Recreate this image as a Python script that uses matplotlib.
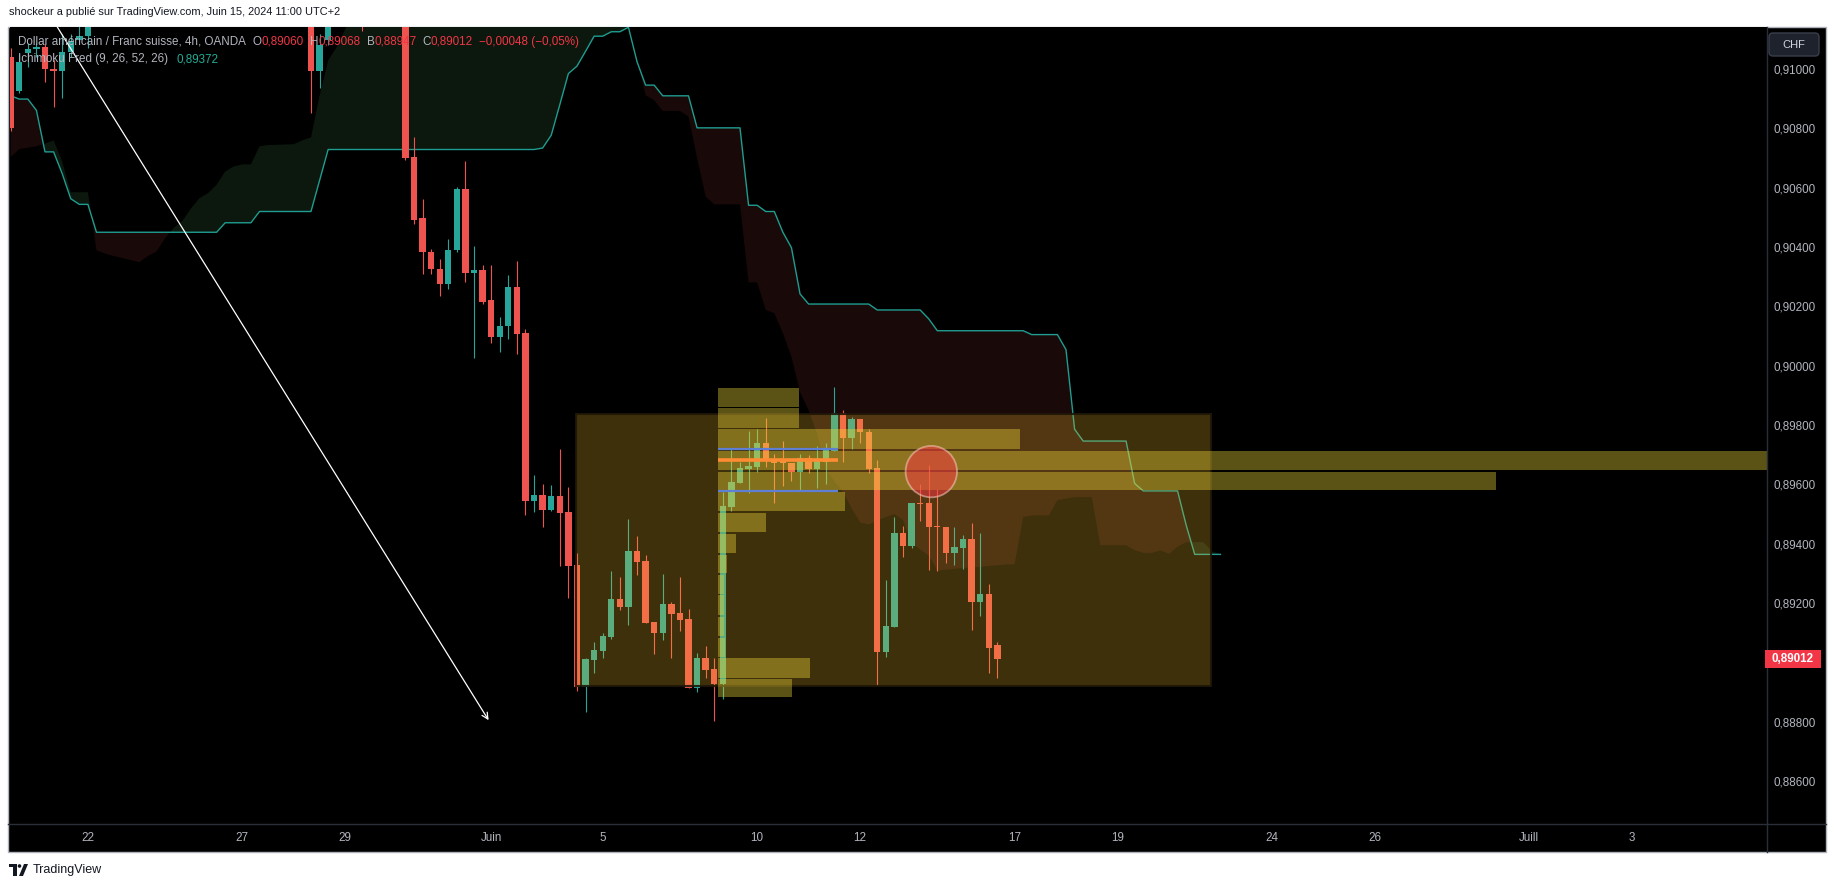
import numpy as np
import matplotlib
matplotlib.use("Agg")
import matplotlib.pyplot as plt
from matplotlib.patches import Rectangle, Ellipse, FancyBboxPatch, Polygon, Circle
from matplotlib.lines import Line2D
from matplotlib.transforms import Affine2D, blended_transform_factory

W, H = 1835, 888

# 4h candles, index 0 = first visible bar (21 mai), 6 bars a day
OPEN = [0.9104, 0.90927, 0.91055, 0.91067, 0.91073, 0.91000, 0.90994, 0.91059, 0.91098, 0.91110,
        0.9116, 0.9128, 0.9137, 0.9146, 0.9142, 0.9140, 0.9149, 0.9151, 0.9144, 0.9139,
        0.9145, 0.9141, 0.9136, 0.9140, 0.9135, 0.9131, 0.9137, 0.9134, 0.9129, 0.9133,
        0.9127, 0.9130, 0.9126, 0.9128, 0.9122, 0.9124, 0.90994, 0.91098, 0.9121, 0.9126,
        0.9131, 0.9125, 0.9121, 0.9127, 0.9130, 0.9124, 0.9126, 0.90704, 0.90497, 0.90385,
        0.90327, 0.90276, 0.90389, 0.90597, 0.90312, 0.90323, 0.90220, 0.90096, 0.90133, 0.90267,
        0.90109, 0.89544, 0.89564, 0.89514, 0.89561, 0.89507, 0.89328, 0.88916, 0.89007, 0.89037,
        0.89084, 0.89213, 0.89186, 0.89375, 0.89341, 0.89135, 0.89098, 0.89196, 0.89166, 0.89145,
        0.88912, 0.89014, 0.88976, 0.88926, 0.89524, 0.89606, 0.89653, 0.89659, 0.89738, 0.89679,
        0.89679, 0.89672, 0.89643, 0.89688, 0.89652, 0.89676, 0.89713, 0.89839, 0.89758, 0.89822,
        0.89778, 0.89654, 0.89035, 0.89119, 0.89436, 0.89393, 0.89537, 0.89537, 0.89459, 0.89456,
        0.89368, 0.89385, 0.89416, 0.89203, 0.89230, 0.89060]
HIGH = [0.9107, 0.9105, 0.91087, 0.91087, 0.91085, 0.91030, 0.9112, 0.9112, 0.9116, 0.9120,
        0.9131, 0.9140, 0.9150, 0.9155, 0.9149, 0.9152, 0.9158, 0.9156, 0.9150, 0.9147,
        0.9152, 0.9148, 0.9143, 0.9146, 0.9141, 0.9139, 0.9142, 0.9140, 0.9136, 0.9138,
        0.9134, 0.9137, 0.9132, 0.9133, 0.9129, 0.9127, 0.9112, 0.9124, 0.9130, 0.9134,
        0.9138, 0.9132, 0.9130, 0.9135, 0.9136, 0.9131, 0.9129, 0.90771, 0.90563, 0.90394,
        0.90360, 0.90426, 0.90602, 0.90689, 0.90402, 0.90338, 0.90340, 0.90163, 0.90307, 0.90352,
        0.90124, 0.89632, 0.89602, 0.89598, 0.89720, 0.89591, 0.89367, 0.89015, 0.89068, 0.89098,
        0.89307, 0.89287, 0.89483, 0.89426, 0.89361, 0.89135, 0.89297, 0.89203, 0.89287, 0.89179,
        0.89030, 0.89054, 0.89014, 0.89574, 0.89724, 0.89676, 0.89780, 0.89786, 0.89825, 0.89704,
        0.89747, 0.89672, 0.89702, 0.89699, 0.89730, 0.89740, 0.89927, 0.89851, 0.89826, 0.89822,
        0.89786, 0.89682, 0.89279, 0.89490, 0.89459, 0.89537, 0.89601, 0.89666, 0.89584, 0.89456,
        0.89456, 0.89429, 0.89470, 0.89436, 0.89264, 0.89068]
LOW = [0.9079, 0.9092, 0.91008, 0.91042, 0.90957, 0.90871, 0.90901, 0.9104, 0.9109, 0.9107,
       0.9116, 0.9124, 0.9133, 0.9138, 0.9135, 0.9136, 0.9142, 0.9140, 0.9136, 0.9133,
       0.9139, 0.9132, 0.9128, 0.9133, 0.9127, 0.9126, 0.9130, 0.9127, 0.9123, 0.9125,
       0.9121, 0.9124, 0.9120, 0.9119, 0.9117, 0.90853, 0.90935, 0.9108, 0.9117, 0.9120,
       0.9122, 0.91128, 0.9117, 0.9121, 0.9122, 0.9118, 0.90695, 0.90479, 0.90310, 0.90310,
       0.90236, 0.90259, 0.90382, 0.90282, 0.90025, 0.90208, 0.90075, 0.90047, 0.90090, 0.90040,
       0.89497, 0.89508, 0.89456, 0.89510, 0.89324, 0.89217, 0.88902, 0.88834, 0.88963, 0.89014,
       0.89079, 0.89176, 0.89125, 0.89294, 0.89132, 0.89027, 0.89074, 0.89014, 0.89105, 0.88912,
       0.88899, 0.88946, 0.88801, 0.88875, 0.89510, 0.89606, 0.89572, 0.89643, 0.89657, 0.89538,
       0.89595, 0.89611, 0.89581, 0.89640, 0.89589, 0.89602, 0.89713, 0.89676, 0.89719, 0.89741,
       0.89640, 0.88925, 0.89018, 0.89119, 0.89356, 0.89384, 0.89476, 0.89312, 0.89307, 0.89334,
       0.89328, 0.89314, 0.89108, 0.89155, 0.88963, 0.88947]
CLOSE = [0.9080, 0.91025, 0.91067, 0.91076, 0.90999, 0.90994, 0.91059, 0.91096, 0.91112, 0.91160,
         0.9128, 0.9137, 0.9146, 0.9142, 0.9140, 0.9149, 0.9151, 0.9144, 0.9139, 0.9145,
         0.9141, 0.9136, 0.9140, 0.9135, 0.9131, 0.9137, 0.9134, 0.9129, 0.9133, 0.9127,
         0.9130, 0.9126, 0.9128, 0.9122, 0.9124, 0.90994, 0.91081, 0.9121, 0.9126, 0.9131,
         0.9125, 0.9121, 0.9127, 0.9130, 0.9124, 0.9126, 0.90702, 0.90493, 0.90383, 0.90325,
         0.90276, 0.90391, 0.90597, 0.90312, 0.90323, 0.90216, 0.90096, 0.90135, 0.90267, 0.90107,
         0.89544, 0.89564, 0.89514, 0.89561, 0.89504, 0.89324, 0.88916, 0.89010, 0.89041, 0.89088,
         0.89213, 0.89186, 0.89375, 0.89338, 0.89132, 0.89098, 0.89196, 0.89162, 0.89142, 0.88912,
         0.89014, 0.88973, 0.88926, 0.89527, 0.89608, 0.89654, 0.89662, 0.89738, 0.89679, 0.89672,
         0.89672, 0.89643, 0.89688, 0.89652, 0.89679, 0.89716, 0.89839, 0.89758, 0.89822, 0.89775,
         0.89653, 0.89035, 0.89122, 0.89436, 0.89393, 0.89537, 0.89534, 0.89456, 0.89456, 0.89368,
         0.89389, 0.89416, 0.89203, 0.89230, 0.89047, 0.89012]

# Ichimoku: Senkou B (teal line) and Senkou A (cloud edge), one value per bar incl. 26 bars ahead
SPAN_B = [0.90910, 0.90899, 0.90899, 0.90861, 0.90721, 0.90721, 0.90648, 0.90563, 0.90544, 0.90544,
          0.90450, 0.90450, 0.90450, 0.90450, 0.90450, 0.90450, 0.90450, 0.90450, 0.90450, 0.90450,
          0.90450, 0.90450, 0.90450, 0.90450, 0.90450, 0.90482, 0.90482, 0.90482, 0.90482, 0.90520,
          0.90520, 0.90520, 0.90520, 0.90520, 0.90520, 0.90520, 0.90625, 0.90729, 0.90729, 0.90729,
          0.90729, 0.90729, 0.90729, 0.90729, 0.90729, 0.90729, 0.90729, 0.90729, 0.90729, 0.90729,
          0.90729, 0.90729, 0.90729, 0.90729, 0.90729, 0.90729, 0.90729, 0.90729, 0.90729, 0.90729,
          0.90729, 0.90729, 0.90734, 0.90777, 0.90880, 0.90985, 0.91010, 0.91060, 0.91111, 0.91111,
          0.91126, 0.91126, 0.91141, 0.91025, 0.90946, 0.90946, 0.90910, 0.90910, 0.90910, 0.90910,
          0.90802, 0.90802, 0.90802, 0.90802, 0.90802, 0.90802, 0.90541, 0.90541, 0.90520, 0.90520,
          0.90450, 0.90398, 0.90242, 0.90208, 0.90208, 0.90208, 0.90208, 0.90208, 0.90208, 0.90208,
          0.90208, 0.90188, 0.90188, 0.90188, 0.90188, 0.90188, 0.90188, 0.90158, 0.90118, 0.90118,
          0.90118, 0.90118, 0.90118, 0.90118, 0.90118, 0.90118, 0.90118, 0.90118, 0.90118, 0.90105,
          0.90105, 0.90105, 0.90105, 0.90054, 0.89786, 0.89746, 0.89746, 0.89746, 0.89746, 0.89746,
          0.89746, 0.89603, 0.89578, 0.89578, 0.89578, 0.89578, 0.89578, 0.89463, 0.89364, 0.89364,
          0.89364, 0.89364]
SPAN_A = [0.90704, 0.90730, 0.90735, 0.90740, 0.90749, 0.90760, 0.90690, 0.90585, 0.90585, 0.90585,
          0.90389, 0.90378, 0.90370, 0.90363, 0.90356, 0.90349, 0.90370, 0.90385, 0.90430, 0.90465,
          0.90488, 0.90530, 0.90565, 0.90582, 0.90610, 0.90655, 0.90672, 0.90679, 0.90679, 0.90740,
          0.90744, 0.90745, 0.90746, 0.90747, 0.90760, 0.90770, 0.90910, 0.91030, 0.91075, 0.91135,
          0.9119, 0.9122, 0.9125, 0.9128, 0.9130, 0.9131, 0.9132, 0.9133, 0.9133, 0.9134,
          0.9134, 0.9135, 0.9135, 0.9134, 0.9133, 0.9132, 0.9131, 0.9130, 0.9129, 0.9128,
          0.9127, 0.9126, 0.9125, 0.9124, 0.9123, 0.9122, 0.9121, 0.9120, 0.9119, 0.9118,
          0.9117, 0.9116, 0.91141, 0.91030, 0.90912, 0.90895, 0.90859, 0.90859, 0.90859, 0.90840,
          0.90700, 0.90570, 0.90544, 0.90544, 0.90544, 0.90544, 0.90281, 0.90281, 0.90188, 0.90177,
          0.90110, 0.90030, 0.89910, 0.89850, 0.89770, 0.89650, 0.89610, 0.89575, 0.89520, 0.89472,
          0.89465, 0.89478, 0.89490, 0.89500, 0.89480, 0.89403, 0.89380, 0.89360, 0.89310, 0.89312,
          0.89315, 0.89318, 0.89320, 0.89322, 0.89325, 0.89327, 0.89330, 0.89330, 0.89490, 0.89495,
          0.89495, 0.89495, 0.89547, 0.89552, 0.89557, 0.89557, 0.89557, 0.89395, 0.89395, 0.89395,
          0.89395, 0.89378, 0.89369, 0.89369, 0.89377, 0.89366, 0.89390, 0.89405, 0.89405, 0.89405,
          0.89375, 0.89364]

# time axis (bar index of each day label)
DAY_POS = [9, 27, 39, 56, 69, 87, 99, 117, 129, 147, 159, 177, 189]
DAY_LABELS = ["22", "27", "29", "Juin", "5", "10", "12", "17", "19", "24", "26", "Juill", "3"]
PRICE_TICKS = [0.886, 0.888, 0.892, 0.894, 0.896, 0.898, 0.900, 0.902, 0.904, 0.906, 0.908, 0.910]

# drawings
BOX_X = [65.9, 139.9]
BOX_Y = [0.88919, 0.89837]
VP_START = 82.4
VP_EDGES = [0.88879, 0.88946, 0.89017, 0.89085, 0.89156, 0.89228, 0.89298, 0.89366,
            0.89436, 0.89507, 0.89578, 0.89645, 0.89716, 0.89788, 0.89860, 0.89927]
VP_END = [91.1, 93.2, 83.2, 83.1, 83.1, 83.1, 83.5, 84.5, 88.0, 97.2, 173.1, 206.0, 117.6, 91.9, 91.9]
POC = 0.89681
VA_HIGH, VA_LOW = 0.89719, 0.89578
VP_LINE_END = 96.4
CIRCLE_C = (107.3, 0.89643)
ARROW_FROM = (5.43, 0.91142)
ARROW_TO = (55.7, 0.88805)
LAST_PRICE = 0.89012

UP, DOWN = "#26a69a", "#ef5350"
GREY = "#b2b5be"
RED_T = "#f23645"

plt.rcParams["font.family"] = ["Liberation Sans", "DejaVu Sans"]
fig = plt.figure(figsize=(W / 100, H / 100), dpi=100, facecolor="white")
pix = Affine2D().scale(1 / W, -1 / H).translate(0, 1) + fig.transFigure

fig.add_artist(Rectangle((8, 27), 1818, 825, transform=pix, fc="black", ec="#b0b3bb", lw=1, zorder=-5))

ax = fig.add_axes([10 / W, 1 - 824 / H, 1757 / W, 797 / H])
ax.set_facecolor("black")
XMIN, XMAX = -0.08, 204.7
YMIN, YMAX = 0.88455, 0.91142
ax.set_xlim(XMIN, XMAX)
ax.set_ylim(YMIN, YMAX)
px_bar = 1757 / (XMAX - XMIN)
px_price = 797 / (YMAX - YMIN)

# ichimoku cloud
xs = np.arange(len(SPAN_A))
a = np.array(SPAN_A)
b = np.array(SPAN_B)
ax.fill_between(xs, a, b, where=a >= b, interpolate=True, color="#0c170e", lw=0, zorder=1)
ax.fill_between(xs, a, b, where=a < b, interpolate=True, color="#1a0909", lw=0, zorder=1)
ax.plot(xs, b, color="#1f9d90", lw=1.0, zorder=2)

# candles
o, h, l, c = (np.array(v) for v in (OPEN, HIGH, LOW, CLOSE))
x = np.arange(len(o))
cols = np.where(c >= o, UP, DOWN)
ax.vlines(x, l, h, colors=cols, lw=0.8, zorder=3)
body = np.maximum(np.abs(c - o), 1.2 / px_price)
ax.bar(x, body, bottom=np.minimum(o, c), width=0.74, color=cols, lw=0, zorder=3)

# rectangle zone
ax.add_patch(Rectangle((BOX_X[0], BOX_Y[0]), BOX_X[1] - BOX_X[0], BOX_Y[1] - BOX_Y[0],
                       fc=(0.98, 0.76, 0.18, 0.25), ec=(0.12, 0.09, 0.03, 0.9), lw=1.5, zorder=4))

# volume profile
gap = 1.5 / px_price
for k, end in enumerate(VP_END):
    ax.add_patch(Rectangle((VP_START, VP_EDGES[k] + gap / 2), end - VP_START,
                           VP_EDGES[k + 1] - VP_EDGES[k] - gap,
                           fc=(0.95, 0.85, 0.22, 0.38), lw=0, zorder=5))
ax.hlines([VA_HIGH, VA_LOW], VP_START, VP_LINE_END, colors="#5f7fd4", lw=1.6, zorder=6)
ax.hlines(POC, VP_START, VP_LINE_END, colors="#ff8c33", lw=2.6, zorder=6)

# circle
r = 25.7
ax.add_patch(Ellipse(CIRCLE_C, 2 * r / px_bar, 2 * r / px_price,
                     fc=(0.95, 0.22, 0.25, 0.55), ec=(0.98, 0.8, 0.75, 0.55), lw=1.3, zorder=7))

# arrow
ax.annotate("", xy=ARROW_TO, xytext=ARROW_FROM,
            arrowprops=dict(arrowstyle="->", color="white", lw=0.9, mutation_scale=11,
                            shrinkA=0, shrinkB=0), zorder=8)

# axes
for s in ax.spines.values():
    s.set_visible(False)
ax.set_xticks(DAY_POS, DAY_LABELS)
ax.yaxis.tick_right()
ax.set_yticks(PRICE_TICKS, [f"{p:.5f}".replace(".", ",") for p in PRICE_TICKS])
ax.tick_params(axis="x", length=0, pad=6, labelsize=8.4, labelcolor=GREY)
ax.tick_params(axis="y", length=0, pad=5, labelsize=8.4, labelcolor=GREY)

fig.add_artist(Line2D([1767, 1767], [27, 852], transform=pix, color="#2a2e39", lw=1))
fig.add_artist(Line2D([8, 1826], [824, 824], transform=pix, color="#2a2e39", lw=1))

# last price tag
bt = blended_transform_factory(pix, ax.transData)
tag_h = 18 / px_price
fig.add_artist(Rectangle((1765, LAST_PRICE - tag_h / 2), 56, tag_h, transform=bt, fc=RED_T, ec="none", zorder=9))
fig.text(1793, LAST_PRICE, "0,89012", transform=bt, ha="center", va="center",
         color="white", fontsize=8.4, fontweight="bold", zorder=10)

# currency box
fig.add_artist(FancyBboxPatch((1769, 33), 50, 23, boxstyle="round,pad=0,rounding_size=4",
                              transform=pix, fc="#1e222d", ec="#3a3e4a", lw=1, zorder=9))
fig.text(1794, 44.5, "CHF", transform=pix, ha="center", va="center", color="#d1d4dc",
         fontsize=8, zorder=10)

# header and footer
fig.text(9, 12, "shockeur a publié sur TradingView.com, Juin 15, 2024 11:00 UTC+2", transform=pix,
         ha="left", va="center", fontsize=7.9, color="#131722")
fig.add_artist(Polygon([[9, 864], [17, 864], [17, 876], [13, 876], [13, 867], [9, 867]],
                       closed=True, transform=pix, fc="#131722", ec="none"))
fig.add_artist(Circle((19.5, 866), 1.8, transform=pix, fc="#131722", ec="none"))
fig.add_artist(Polygon([[19, 876], [23, 876], [28, 864], [24, 864]], closed=True,
                       transform=pix, fc="#131722", ec="none"))
fig.text(33, 870, "TradingView", transform=pix, ha="left", va="center", fontsize=9, color="#131722")

# legend lines, laid out piece by piece
renderer = fig.canvas.get_renderer()
legend1 = [("Dollar américain / Franc suisse, 4h, OANDA", GREY, 7),
           ("O", GREY, 0), ("0,89060", RED_T, 6),
           ("H", GREY, 0), ("0,89068", RED_T, 6),
           ("B", GREY, 0), ("0,88947", RED_T, 6),
           ("C", GREY, 0), ("0,89012", RED_T, 6),
           ("−0,00048 (−0,05%)", RED_T, 0)]
xp = 18
for s, col, sp in legend1:
    t = fig.text(xp, 42, s, transform=pix, ha="left", va="center", fontsize=8.4, color=col, zorder=10)
    xp += t.get_window_extent(renderer).width + sp
t = fig.text(18, 59, "Ichimoku Fred (9, 26, 52, 26)", transform=pix, ha="left", va="center",
             fontsize=8.4, color=GREY, zorder=10)
fig.text(18 + t.get_window_extent(renderer).width + 8, 59, "0,89372", transform=pix, ha="left",
         va="center", fontsize=8.4, color="#22ab94", zorder=10)

fig.savefig("out.png", dpi=100, facecolor="white")
